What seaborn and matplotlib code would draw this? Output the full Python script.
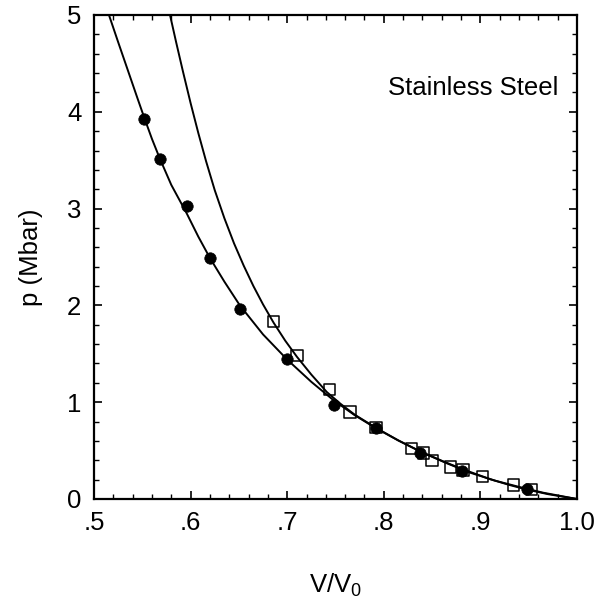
import matplotlib
matplotlib.use("Agg")
import matplotlib.pyplot as plt
import seaborn as sns
import pandas as pd
from matplotlib.ticker import MultipleLocator, FixedLocator

# ---- data ----
circle_v = [0.552, 0.568, 0.596, 0.620, 0.651, 0.700, 0.748, 0.792, 0.837, 0.881, 0.948]
circle_p = [3.93, 3.51, 3.03, 2.49, 1.96, 1.45, 0.97, 0.73, 0.48, 0.29, 0.10]

square_v = [0.686, 0.710, 0.744, 0.765, 0.792, 0.829, 0.841, 0.850, 0.869, 0.882, 0.902, 0.934, 0.953]
square_p = [1.83, 1.48, 1.13, 0.90, 0.74, 0.52, 0.475, 0.40, 0.33, 0.30, 0.23, 0.145, 0.10]

lower_v = [0.5155, 0.525, 0.535, 0.545, 0.552, 0.560, 0.568, 0.580, 0.596, 0.608,
           0.620, 0.635, 0.651, 0.675, 0.700, 0.725, 0.748, 0.770, 0.792, 0.815,
           0.837, 0.860, 0.881, 0.910, 0.930, 0.948, 0.970, 1.000]
lower_p = [5.00, 4.72, 4.43, 4.14, 3.94, 3.72, 3.52, 3.245, 2.95, 2.71,
           2.49, 2.245, 2.00, 1.70, 1.44, 1.21, 1.02, 0.865, 0.73, 0.605,
           0.495, 0.395, 0.31, 0.205, 0.145, 0.098, 0.05, 0.0]

upper_v = [0.5787, 0.585, 0.592, 0.600, 0.608, 0.616, 0.625, 0.635, 0.645, 0.655,
           0.665, 0.675, 0.686, 0.698, 0.710, 0.725, 0.741, 0.755, 0.770, 0.792,
           0.815, 0.840, 0.865, 0.890, 0.915, 0.940, 0.965, 1.000]
upper_p = [5.00, 4.72, 4.42, 4.09, 3.78, 3.49, 3.19, 2.90, 2.64, 2.41,
           2.20, 2.01, 1.82, 1.635, 1.47, 1.285, 1.105, 0.985, 0.87, 0.735,
           0.605, 0.48, 0.37, 0.27, 0.19, 0.125, 0.065, 0.0]

x_ticks = [0.5, 0.6, 0.7, 0.8, 0.9, 1.0]
x_tick_labels = [".5", ".6", ".7", ".8", ".9", "1.0"]
y_ticks = [0, 1, 2, 3, 4, 5]
y_tick_labels = ["0", "1", "2", "3", "4", "5"]

sns.set_theme(style="ticks")
plt.rcParams["font.family"] = ["Liberation Sans", "DejaVu Sans"]
plt.rcParams["mathtext.default"] = "regular"
plt.rcParams["text.color"] = "black"
plt.rcParams["axes.labelcolor"] = "black"
plt.rcParams["xtick.color"] = "black"
plt.rcParams["ytick.color"] = "black"

fig = plt.figure(figsize=(5.97, 6.13), dpi=100)
ax = fig.add_axes([94 / 597, 1 - 499 / 613, 483 / 597, 484 / 613])

lower_df = pd.DataFrame({"V": lower_v, "p": lower_p})
upper_df = pd.DataFrame({"V": upper_v, "p": upper_p})
circ_df = pd.DataFrame({"V": circle_v, "p": circle_p})
sq_df = pd.DataFrame({"V": square_v, "p": square_p})

sns.lineplot(data=lower_df, x="V", y="p", ax=ax, color="black", lw=1.4,
             estimator=None, sort=False, zorder=2)
sns.lineplot(data=upper_df, x="V", y="p", ax=ax, color="black", lw=1.4,
             estimator=None, sort=False, zorder=2)
sns.scatterplot(data=sq_df, x="V", y="p", ax=ax, marker="s", s=66,
                facecolor="none", edgecolor="black", linewidth=1.1, zorder=3)
sns.scatterplot(data=circ_df, x="V", y="p", ax=ax, marker="o", s=68,
                color="black", edgecolor="black", linewidth=0.5, zorder=4)

ax.set_xlim(0.5, 1.0)
ax.set_ylim(0, 5)
ax.xaxis.set_major_locator(FixedLocator(x_ticks))
ax.set_xticklabels(x_tick_labels)
ax.yaxis.set_major_locator(FixedLocator(y_ticks))
ax.set_yticklabels(y_tick_labels)
ax.xaxis.set_minor_locator(MultipleLocator(0.02))
ax.yaxis.set_minor_locator(MultipleLocator(0.2))

ax.tick_params(which="both", direction="in", top=True, right=True, color="black",
               labelcolor="black")
ax.tick_params(which="major", length=6, width=1.2, labelsize=18.5, pad=9)
ax.tick_params(which="minor", length=3.5, width=1.0)
for sp in ax.spines.values():
    sp.set_linewidth(1.6)
    sp.set_color("black")

ax.set_xlabel("V/V$_0$", fontsize=18.5, color="black")
ax.xaxis.set_label_coords(0.5, -0.15)
ax.xaxis.label.set_va("top")
ax.set_ylabel("p (Mbar)", fontsize=18.5, color="black")
ax.yaxis.set_label_coords(-0.105, 0.5)

ax.text(0.609, 0.849, "Stainless Steel", transform=ax.transAxes,
        ha="left", va="center", fontsize=18.5, color="black")

fig.savefig("out.png", dpi=100)
